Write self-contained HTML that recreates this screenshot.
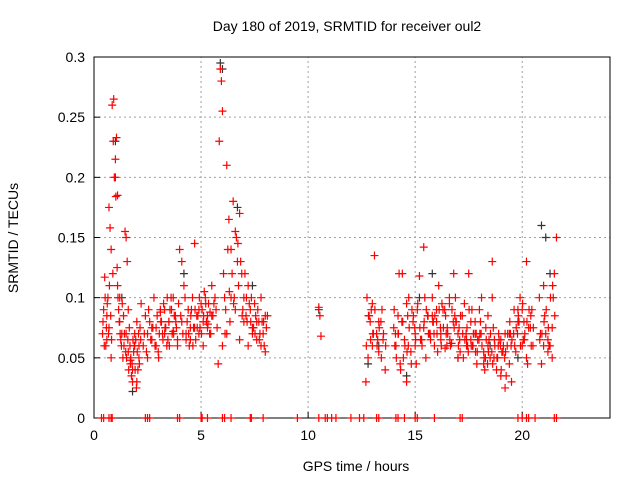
<!DOCTYPE html>
<html><head><meta charset="utf-8"><style>
body{margin:0;background:#fff}
svg text{font-family:"Liberation Sans",sans-serif;font-size:14px;fill:#000}
</style></head><body>
<svg id="c" width="640" height="480">
<text x="347" y="31" text-anchor="middle">Day 180 of 2019, SRMTID for receiver oul2</text>
<text x="356" y="471" text-anchor="middle">GPS time / hours</text>
<text transform="translate(18,238) rotate(-90)" text-anchor="middle">SRMTID / TECUs</text>
<g id="grid"></g><g id="axes"></g><g id="marks"></g>
</svg>
<script>
const xTicks=[0,5,10,15,20];
const yTicks=[0,0.05,0.1,0.15,0.2,0.25,0.3];
const yTickLabels=["0","0.05","0.1","0.15","0.2","0.25","0.3"];
const times=[0.4,0.45,0.5,0.55,0.6,0.65,0.7,0.75,0.8,0.85,0.9,0.92,0.95,1.0,1.02,1.05,1.08,1.1,1.15,1.2,1.25,1.3,1.35,1.4,1.45,1.5,1.55,1.6,1.65,1.7,1.75,1.8,1.85,1.9,1.95,2.0,2.05,2.1,2.15,2.2,
2.3,2.4,2.5,2.6,2.7,2.8,2.9,3.0,3.1,3.2,3.3,3.4,3.5,3.6,3.7,3.8,3.9,4.0,4.1,4.2,4.3,4.4,4.5,4.6,4.7,4.8,4.9,5.0,5.1,5.2,5.3,5.4,5.5,5.6,5.7,5.8,5.85,5.9,5.95,6.0,6.05,6.1,6.2,6.3,6.4,6.5,6.6,6.7,6.8,6.9,7.0,7.1,7.2,7.3,7.4,7.5,7.6,7.7,7.8,7.9,8.0,8.1,
1.0,1.1,1.2,0.6,0.7,0.8,1.5,1.7,1.9,2.0,2.5,2.7,2.9,3.1,3.3,3.5,3.7,3.9,4.1,4.3,4.5,4.7,4.9,5.1,5.3,5.5,6.0,6.2,6.4,6.6,6.8,7.0,7.2,7.4,7.6,7.8,8.0,1.6,1.8,2.1,
10.5,10.55,10.6,
12.7,12.8,12.9,13.0,13.1,13.2,13.3,13.4,13.5,13.6,14.0,14.1,14.2,14.3,14.4,14.5,14.6,14.7,14.8,14.9,15.0,15.1,15.2,15.3,15.4,15.5,15.6,15.7,15.8,15.9,16.0,16.1,16.2,16.3,16.4,16.5,16.6,16.7,16.8,16.9,17.0,17.1,17.2,17.3,17.4,17.5,17.6,17.7,17.8,17.9,18.0,18.1,18.2,18.3,18.4,18.5,18.6,18.7,18.8,18.9,19.0,19.1,19.2,19.3,19.4,19.5,19.6,19.7,19.8,19.9,20.0,20.1,20.2,20.3,20.4,20.5,20.8,20.9,21.0,21.1,21.2,21.3,21.4,21.5,21.6,
12.75,12.85,12.95,13.05,13.25,13.45,14.05,14.25,14.45,14.65,14.85,15.05,15.25,15.45,15.65,15.85,16.05,16.25,16.45,16.65,16.85,17.05,17.25,17.45,17.65,17.85,18.05,18.25,18.45,18.65,18.85,19.05,19.25,19.45,19.65,19.85,20.05,20.25,20.45,20.85,21.05,21.25,21.45,
13.0,13.3,14.2,14.6,15.0,15.4,15.8,16.2,16.6,17.0,17.4,17.8,18.2,18.6,19.0,19.4,19.8,20.2,21.0,21.4,14.4,16.0,17.6,18.4,19.2,20.0,21.2];
const values=[0.07,0.09,0.117,0.06,0.085,0.1,0.175,0.158,0.14,0.26,0.23,0.265,0.2,0.215,0.184,0.233,0.125,0.11,0.09,0.08,0.065,0.07,0.05,0.06,0.155,0.15,0.13,0.09,0.075,0.048,0.035,0.03,0.055,0.07,0.065,0.08,0.04,0.06,0.075,0.095,
0.06,0.085,0.05,0.08,0.065,0.1,0.075,0.055,0.088,0.07,0.09,0.06,0.08,0.1,0.072,0.085,0.065,0.14,0.13,0.11,0.065,0.09,0.075,0.1,0.145,0.085,0.07,0.095,0.08,0.1,0.085,0.07,0.11,0.095,0.09,0.045,0.23,0.29,0.28,0.255,0.12,0.1,0.21,0.165,0.14,0.18,0.155,0.13,0.17,0.12,0.1,0.085,0.11,0.09,0.075,0.095,0.065,0.08,0.1,0.07,0.055,0.085,
0.2,0.185,0.1,0.065,0.075,0.05,0.07,0.045,0.06,0.03,0.07,0.075,0.06,0.09,0.07,0.08,0.1,0.06,0.08,0.07,0.065,0.075,0.09,0.06,0.075,0.085,0.06,0.07,0.1,0.09,0.065,0.08,0.06,0.07,0.08,0.06,0.085,0.055,0.04,0.05,
0.092,0.085,0.068,
0.03,0.05,0.08,0.095,0.135,0.07,0.055,0.08,0.065,0.04,0.075,0.06,0.085,0.045,0.12,0.065,0.03,0.1,0.055,0.08,0.07,0.09,0.118,0.065,0.142,0.05,0.085,0.07,0.1,0.06,0.08,0.11,0.065,0.09,0.058,0.075,0.1,0.062,0.12,0.08,0.07,0.055,0.085,0.095,0.065,0.12,0.08,0.06,0.07,0.055,0.09,0.1,0.045,0.075,0.06,0.05,0.13,0.065,0.04,0.07,0.035,0.055,0.025,0.06,0.045,0.03,0.07,0.055,0.08,0.1,0.09,0.065,0.13,0.075,0.085,0.06,0.1,0.045,0.11,0.07,0.055,0.06,0.05,0.12,0.15,0.1,0.085,0.09,0.07,
0.065,0.09,0.06,0.12,0.05,0.085,0.09,0.045,0.065,0.1,0.07,0.08,0.055,0.095,0.07,0.06,0.085,0.075,0.05,0.06,0.09,0.07,0.08,0.04,0.065,0.075,0.05,0.055,0.035,0.07,0.06,0.08,0.065,0.045,0.09,0.07,0.085,0.06,0.1,0.06,0.08,0.07,0.095,
0.06,0.075,0.085,0.07,0.095,0.05,0.06,0.08,0.055,0.1,0.065,0.07,0.09,0.05,0.06,0.075,0.08,0.09,0.065,0.085,0.07,0.06,0.065,0.05,0.04,0.06,0.09];
const times2=[0.42,0.48,0.52,0.58,0.62,0.68,0.72,0.78,0.82,0.88,1.12,1.18,1.22,1.28,1.32,1.38,1.42,1.48,1.52,1.58,1.62,1.68,1.72,1.78,1.82,1.88,1.92,1.98,2.02,2.08,2.12,2.18,
2.35,2.45,2.55,2.65,2.75,2.85,2.95,3.05,3.15,3.25,3.35,3.45,3.55,3.65,3.75,3.85,3.95,4.05,4.15,4.25,4.35,4.45,4.55,4.65,4.75,4.85,4.95,5.05,5.15,5.25,5.35,5.45,5.55,5.65,5.75,
3.02,3.12,3.22,3.32,3.42,3.52,3.62,3.72,3.82,4.42,4.52,4.62,4.72,4.82,4.92,5.02,5.12,5.22,5.32,5.42,
6.15,6.25,6.35,6.45,6.55,6.65,6.75,6.85,6.95,7.05,7.15,7.25,7.35,7.45,7.55,7.65,7.75,7.85,7.95,8.05,6.12,6.32,6.52,6.72,6.92,7.12,7.32,7.52,7.72,7.92,
12.72,12.82,12.92,13.02,13.12,13.22,13.32,13.42,13.52,13.62,14.02,14.12,14.22,14.32,14.42,14.52,14.62,14.72,14.82,14.92,15.02,15.12,15.22,15.32,15.42,15.52,15.62,15.72,15.82,15.92,16.02,16.12,16.22,16.32,16.42,16.52,16.62,16.72,16.82,16.92,17.02,17.12,17.22,17.32,17.42,17.52,17.62,17.72,17.82,17.92,18.02,18.12,18.22,18.32,18.42,18.52,18.62,18.72,18.82,18.92,19.02,19.12,19.22,19.32,19.42,19.52,19.62,19.72,19.82,19.92,20.02,20.12,20.22,20.32,20.42,20.52,20.82,20.92,21.02,21.12,21.22,21.32,21.42,21.52,
14.08,14.38,14.68,14.98,15.28,15.58,15.88,16.18,16.48,16.78,17.08,17.38,17.68,17.98,18.28,18.58,18.88,19.18,19.48,19.78,20.08,20.38,16.38,16.88,17.48,17.88,18.08,18.38,18.68,18.98];
const values2=[0.08,0.06,0.1,0.075,0.095,0.07,0.11,0.085,0.065,0.12,0.1,0.08,0.07,0.06,0.095,0.085,0.07,0.055,0.05,0.065,0.04,0.06,0.05,0.045,0.065,0.06,0.04,0.025,0.055,0.07,0.045,0.065,
0.07,0.055,0.09,0.065,0.075,0.06,0.085,0.07,0.08,0.095,0.075,0.065,0.09,0.07,0.085,0.075,0.095,0.085,0.07,0.1,0.08,0.06,0.09,0.075,0.065,0.085,0.075,0.09,0.105,0.08,0.095,0.07,0.085,0.1,0.075,
0.05,0.08,0.065,0.075,0.1,0.06,0.09,0.07,0.08,0.07,0.085,0.06,0.09,0.075,0.1,0.07,0.085,0.095,0.078,0.088,
0.09,0.14,0.08,0.12,0.1,0.15,0.11,0.13,0.09,0.12,0.08,0.095,0.1,0.075,0.085,0.09,0.07,0.08,0.06,0.075,0.07,0.105,0.095,0.145,0.085,0.1,0.08,0.07,0.065,0.08,
0.06,0.085,0.065,0.07,0.09,0.06,0.075,0.05,0.07,0.06,0.09,0.05,0.07,0.04,0.08,0.06,0.055,0.075,0.045,0.085,0.065,0.095,0.075,0.06,0.08,0.09,0.07,0.065,0.08,0.085,0.07,0.09,0.06,0.075,0.085,0.07,0.065,0.09,0.075,0.08,0.06,0.085,0.07,0.065,0.075,0.09,0.06,0.07,0.055,0.065,0.07,0.06,0.05,0.065,0.055,0.07,0.045,0.06,0.05,0.065,0.04,0.06,0.055,0.07,0.08,0.065,0.09,0.075,0.085,0.06,0.095,0.07,0.08,0.09,0.06,0.075,0.065,0.07,0.08,0.09,0.075,0.1,0.11,0.085,
0.07,0.08,0.06,0.075,0.065,0.085,0.07,0.075,0.06,0.08,0.065,0.07,0.06,0.065,0.05,0.055,0.06,0.05,0.06,0.07,0.08,0.075,0.09,0.1,0.055,0.045,0.07,0.045,0.05,0.06];
const blackTimes=[1.0,1.3,1.8,4.2,5.9,6.0,6.7,7.4,10.5,12.8,13.3,14.6,15.2,15.8,17.0,18.5,19.8,20.9,21.1,21.3];
const blackValues=[0.23,0.1,0.022,0.12,0.295,0.29,0.175,0.11,0.09,0.045,0.06,0.035,0.1,0.12,0.05,0.06,0.05,0.16,0.15,0.12];
const zeroTimes=[0.35,0.45,0.7,0.8,0.85,2.4,2.5,2.6,3.9,4.0,5.0,5.05,5.3,6.0,6.1,6.4,7.3,7.35,7.9,9.5,10.5,10.8,10.9,11.1,11.3,12.0,12.4,12.6,13.2,13.3,14.1,14.2,14.5,15.0,15.1,15.9,17.1,17.2,19.8,20.0,20.2,20.3,20.6,21.5,21.6];
const X0=94,X1=610,Y0=418,Y1=57,XMAX=24.1,YMAX=0.3;
const xs=v=>X0+v/XMAX*(X1-X0), ys=v=>Y0-v/YMAX*(Y0-Y1);
const NS='http://www.w3.org/2000/svg';
function mk(tag,attrs,parent){const e=document.createElementNS(NS,tag);for(const k in attrs)e.setAttribute(k,attrs[k]);parent.appendChild(e);return e;}
const grid=document.getElementById('grid'),axes=document.getElementById('axes'),marks=document.getElementById('marks');
xTicks.forEach((t,i)=>{const x=xs(t);
 if(t>0){const g=mk('line',{x1:x,x2:x,y1:Y0,y2:Y1,stroke:'#a0a0a0','stroke-dasharray':'2,3'},grid);}
 const tk=mk('line',{x1:x,x2:x,y1:Y0,y2:Y0-6,stroke:'#000'},axes);
 const tx=mk('text',{x:x,y:Y0+22,'text-anchor':'middle'},axes);tx.textContent=t;
 
 });
yTicks.forEach((t,i)=>{const y=ys(t);
 if(t>0&&t<YMAX){const g=mk('line',{x1:X0,x2:X1,y1:y,y2:y,stroke:'#a0a0a0','stroke-dasharray':'2,3'},grid);}
 const tk=mk('line',{x1:X0,x2:X0+6,y1:y,y2:y,stroke:'#000'},axes);
 const tx=mk('text',{x:X0-9,y:y+5,'text-anchor':'end'},axes);tx.textContent=yTickLabels[i];
 
 });
const fr=mk('rect',{x:X0,y:Y1,width:X1-X0,height:Y0-Y1,fill:'none',stroke:'#000'},axes);


function plus(t,v,col,name){const x=xs(t),y=ys(v);
 const p=mk('path',{d:`M${x-4},${y}H${x+4}M${x},${y-4}V${y+4}`,stroke:col,'stroke-width':1.2,fill:'none'},marks);
 
 }
blackTimes.forEach((t,i)=>plus(t,blackValues[i],'#333','black-point'));
times.forEach((t,i)=>plus(t,values[i],'#f00','red-point'));
times2.forEach((t,i)=>plus(t,values2[i],'#f00','red-point'));
zeroTimes.forEach(t=>plus(t,0,'#f00','zero-point'));
</script>
</body></html>
